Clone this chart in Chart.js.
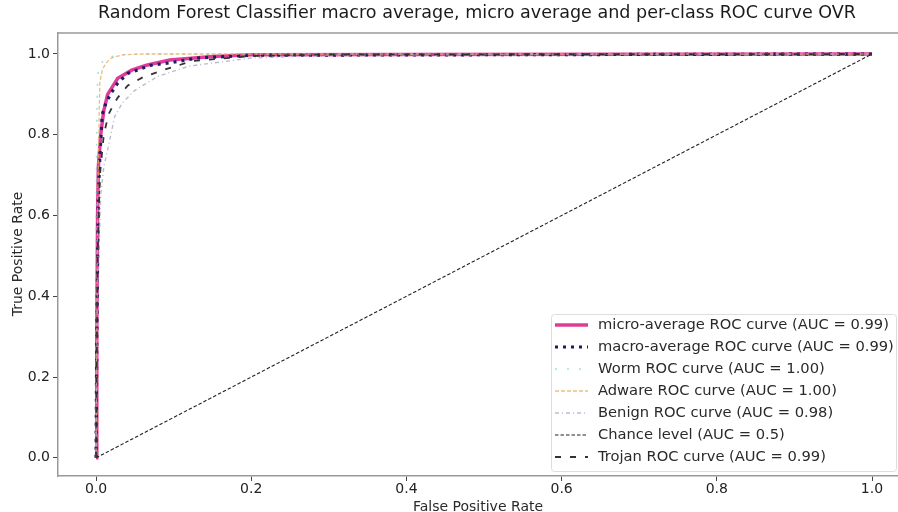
<!DOCTYPE html>
<html>
<head>
<meta charset="utf-8">
<script src="https://cdn.jsdelivr.net/npm/chart.js@4/dist/chart.umd.min.js"></script>
<style>
  html, body { margin: 0; padding: 0; background: #fff; }
  #wrap { width: 898px; height: 512px; }
</style>
</head>
<body>
<div id="wrap"><canvas id="rocChart"></canvas></div>
<script>
// chart texts
var titleText = 'Random Forest Classifier macro average, micro average and per-class ROC curve OVR';
var xLabel = 'False Positive Rate';
var yLabel = 'True Positive Rate';
var xTicks = [0, 0.2, 0.4, 0.6, 0.8, 1.0];
var yTicks = [0, 0.2, 0.4, 0.6, 0.8, 1.0];

// legend labels, in legend order
var seriesNames = [
  'micro-average ROC curve (AUC = 0.99)',
  'macro-average ROC curve (AUC = 0.99)',
  'Worm ROC curve (AUC = 1.00)',
  'Adware ROC curve (AUC = 1.00)',
  'Benign ROC curve (AUC = 0.98)',
  'Chance level (AUC = 0.5)',
  'Trojan ROC curve (AUC = 0.99)'
];

// ROC points (fpr / tpr)
var microFpr = [0, 0.001, 0.002, 0.003, 0.006, 0.01, 0.015, 0.028, 0.046, 0.065, 0.095, 0.15, 0.2, 0.4, 1];
var microTpr = [0, 0.3, 0.6, 0.72, 0.8, 0.86, 0.9, 0.94, 0.96, 0.972, 0.985, 0.994, 0.998, 0.999, 1];

var macroFpr = [0, 0.001, 0.003, 0.005, 0.008, 0.013, 0.02, 0.028, 0.041, 0.07, 0.095, 0.13, 0.2, 1];
var macroTpr = [0, 0.3, 0.65, 0.75, 0.85, 0.88, 0.905, 0.928, 0.952, 0.972, 0.978, 0.99, 0.997, 1];

var wormFpr = [0, 0, 0.001, 0.002, 0.003, 0.006, 0.012, 0.03, 0.06, 1];
var wormTpr = [0, 0.5, 0.85, 0.93, 0.96, 0.975, 0.99, 0.998, 1, 1];

var adwareFpr = [0, 0.002, 0.004, 0.005, 0.008, 0.012, 0.018, 0.024, 0.035, 0.06, 1];
var adwareTpr = [0, 0.6, 0.85, 0.93, 0.96, 0.975, 0.988, 0.993, 0.998, 1, 1];

var benignFpr = [0, 0.002, 0.006, 0.01, 0.014, 0.018, 0.024, 0.034, 0.05, 0.08, 0.12, 0.2, 0.3, 1];
var benignTpr = [0, 0.4, 0.65, 0.72, 0.755, 0.79, 0.845, 0.879, 0.91, 0.945, 0.97, 0.99, 0.997, 1];

var chanceFpr = [0, 1];
var chanceTpr = [0, 1];

var trojanFpr = [0, 0.002, 0.005, 0.01, 0.016, 0.021, 0.028, 0.041, 0.061, 0.086, 0.125, 0.2, 0.3, 1];
var trojanTpr = [0, 0.5, 0.7, 0.8, 0.85, 0.869, 0.892, 0.922, 0.943, 0.96, 0.983, 0.995, 0.999, 1];

function toPoints(fx, ty) {
  return fx.map(function(v, i) { return { x: v, y: ty[i] }; });
}

// line styles per series (legend order)
var styles = [
  { color: 'rgb(222,60,150)', width: 3.5, dash: [] },
  { color: '#1c1c6a', width: 3.2, dash: [3, 5] },
  { color: 'rgba(90,205,210,0.6)', width: 1.5, dash: [2, 10] },
  { color: 'rgba(225,175,100,0.8)', width: 1.3, dash: [4, 2] },
  { color: 'rgba(170,160,195,0.75)', width: 1.4, dash: [4, 3, 1, 3] },
  { color: '#222', width: 1.1, dash: [3.5, 2] },
  { color: '#333', width: 1.8, dash: [6, 9] }
];

var seriesPoints = [
  toPoints(microFpr, microTpr),
  toPoints(macroFpr, macroTpr),
  toPoints(wormFpr, wormTpr),
  toPoints(adwareFpr, adwareTpr),
  toPoints(benignFpr, benignTpr),
  toPoints(chanceFpr, chanceTpr),
  toPoints(trojanFpr, trojanTpr)
];

var datasets = seriesPoints.map(function(pts, i) {
  return {
    label: seriesNames[i],
    data: pts,
    showLine: true,
    borderColor: styles[i].color,
    borderWidth: styles[i].width,
    borderDash: styles[i].dash,
    pointRadius: 0,
    fill: false,
    tension: 0,
    order: 10 - i // later series on top, like matplotlib
  };
});

var FONT = 'DejaVu Sans';

// title, axis titles, top spine and legend box
var decorPlugin = {
  id: 'decor',
  beforeDraw: function(chart) {
    var ctx = chart.ctx;
    ctx.save();
    ctx.fillStyle = '#fff';
    ctx.fillRect(0, 0, chart.width, chart.height);
    ctx.restore();
  },
  afterDraw: function(chart) {
    var ctx = chart.ctx;
    var area = chart.chartArea;
    ctx.save();

    // top spine
    ctx.strokeStyle = '#999';
    ctx.lineWidth = 1.5;
    ctx.beginPath();
    ctx.moveTo(area.left, area.top);
    ctx.lineTo(area.right, area.top);
    ctx.stroke();

    // title, squeezed to the picture's width (it looks condensed there)
    ctx.fillStyle = '#1a1a1a';
    ctx.font = '17.5px ' + FONT;
    ctx.textBaseline = 'middle';
    ctx.textAlign = 'center';
    var tw = ctx.measureText(titleText).width;
    var sx = 758 / tw;
    ctx.save();
    ctx.translate(477, 13);
    ctx.scale(sx, 1);
    ctx.fillText(titleText, 0, 0);
    ctx.restore();

    // axis titles
    ctx.fillStyle = '#2a2a2a';
    ctx.font = '14px ' + FONT;
    ctx.fillText(xLabel, 478, 507);
    ctx.save();
    ctx.translate(18, 254);
    ctx.rotate(-Math.PI / 2);
    ctx.fillText(yLabel, 0, 0);
    ctx.restore();

    // legend
    var lx = 551, ly = 314, lw = 345, lh = 157;
    ctx.fillStyle = 'rgba(255,255,255,0.85)';
    ctx.strokeStyle = '#ddd';
    ctx.lineWidth = 1;
    ctx.beginPath();
    ctx.roundRect(lx + 0.5, ly + 0.5, lw, lh, 3);
    ctx.fill();
    ctx.stroke();

    ctx.font = '14.7px ' + FONT;
    ctx.textAlign = 'left';
    seriesNames.forEach(function(name, i) {
      var y = 325 + i * 22;
      var st = styles[i];
      ctx.strokeStyle = st.color;
      ctx.lineWidth = st.width;
      ctx.setLineDash(st.dash);
      ctx.beginPath();
      ctx.moveTo(555, y);
      ctx.lineTo(588, y);
      ctx.stroke();
      ctx.setLineDash([]);
      ctx.fillStyle = '#2a2a2a';
      ctx.fillText(name, 598, y);
    });

    ctx.restore();
  }
};

var tickFont = { family: FONT, size: 14 };

new Chart(document.getElementById('rocChart'), {
  type: 'scatter',
  data: { datasets: datasets },
  options: {
    responsive: true,
    maintainAspectRatio: false,
    animation: false,
    layout: { padding: { top: 33, left: 0, right: 0, bottom: 0 } },
    plugins: {
      legend: { display: false },
      title: { display: false },
      tooltip: { enabled: false }
    },
    scales: {
      x: {
        type: 'linear',
        min: -0.049,
        max: 1.0335,
        afterBuildTicks: function(axis) {
          axis.ticks = xTicks.map(function(v) { return { value: v }; });
        },
        afterFit: function(axis) { axis.height = 36; },
        grid: { drawOnChartArea: false, tickLength: 5, color: '#444' },
        border: { color: '#999', width: 1.5 },
        ticks: {
          padding: 0,
          color: '#222',
          font: tickFont,
          maxRotation: 0,
          callback: function(v) { return v.toFixed(1); }
        }
      },
      y: {
        type: 'linear',
        min: -0.045,
        max: 1.052,
        afterBuildTicks: function(axis) {
          axis.ticks = yTicks.map(function(v) { return { value: v }; });
        },
        afterFit: function(axis) { axis.width = 58; },
        grid: { drawOnChartArea: false, tickLength: 5, color: '#444' },
        border: { color: '#999', width: 1.5 },
        ticks: {
          padding: 3,
          color: '#222',
          font: tickFont,
          callback: function(v) { return v.toFixed(1); }
        }
      }
    }
  },
  plugins: [decorPlugin]
});
</script>
</body>
</html>
